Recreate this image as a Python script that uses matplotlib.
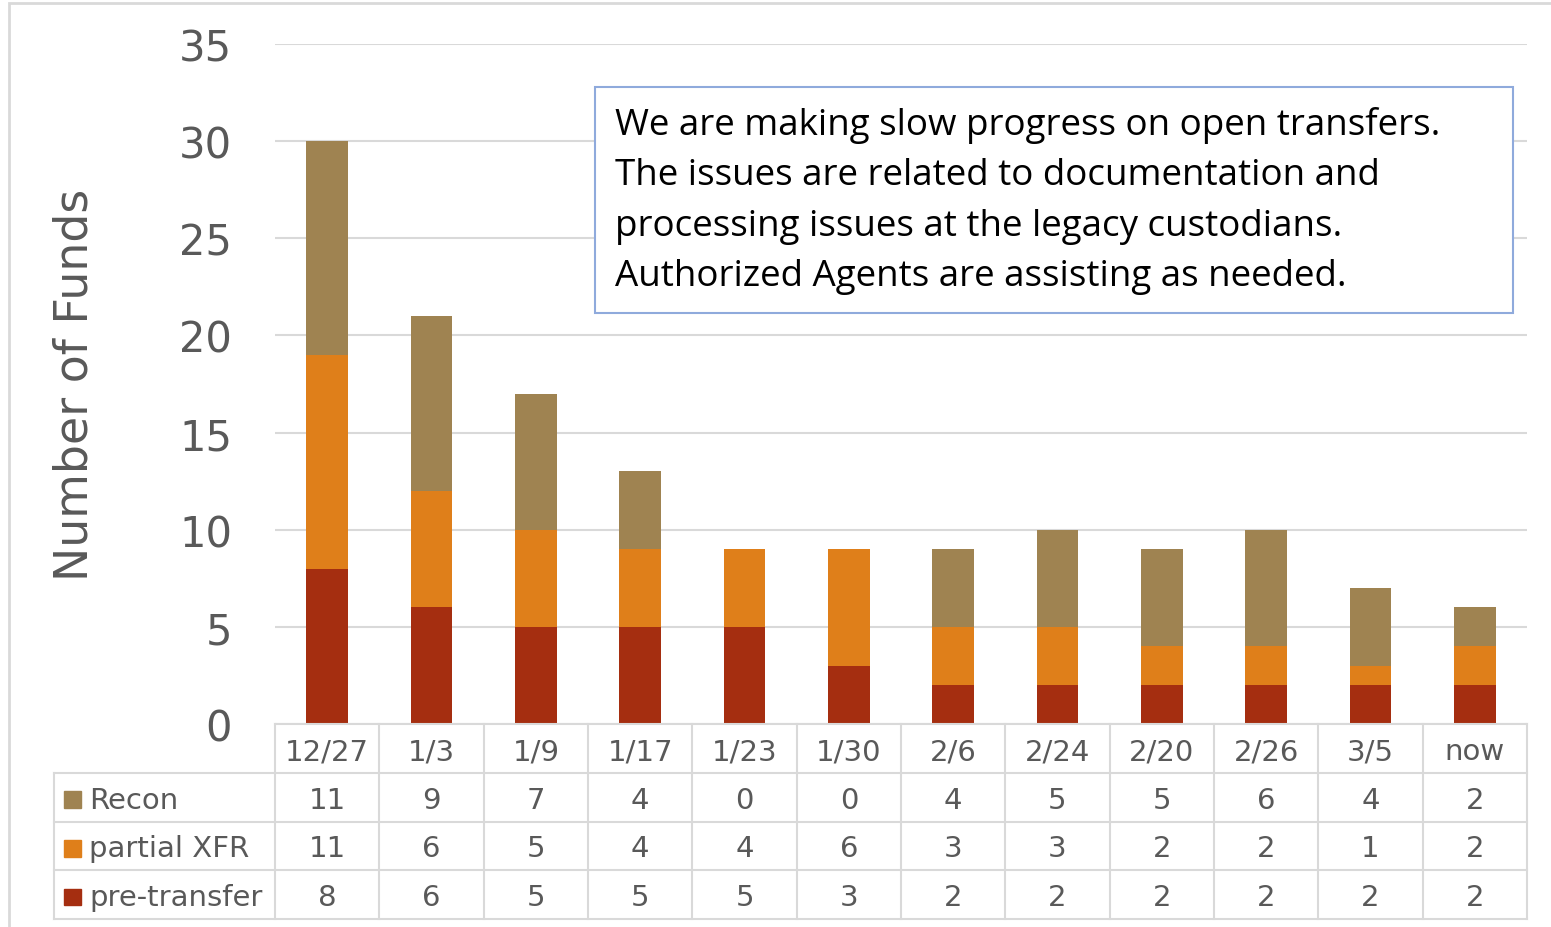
import matplotlib.pyplot as plt
from matplotlib.patches import Rectangle

categories = ['12/27', '1/3', '1/9', '1/17', '1/23', '1/30', '2/6', '2/24', '2/20', '2/26', '3/5', 'now']
recon = [11, 9, 7, 4, 0, 0, 4, 5, 5, 6, 4, 2]
partial_xfr = [11, 6, 5, 4, 4, 6, 3, 3, 2, 2, 1, 2]
pre_transfer = [8, 6, 5, 5, 5, 3, 2, 2, 2, 2, 2, 2]
series_names = ['Recon', 'partial XFR', 'pre-transfer']
colors = ['#9F8351', '#DF7F1A', '#A52E10']
yticks = [0, 5, 10, 15, 20, 25, 30, 35]
note = ("We are making slow progress on open transfers.\n"
        "The issues are related to documentation and\n"
        "processing issues at the legacy custodians.\n"
        "Authorized Agents are assisting as needed.")

W, H = 1551, 928
GRID = '#D9D9D9'
TXT = '#595959'
plt.rcParams['font.family'] = ['DejaVu Sans']

fig = plt.figure(figsize=(W / 100, H / 100), dpi=100)

# outer chart frame
fig.patches.append(Rectangle((9 / W, -0.1), 1.2, 1 - 4 / H + 0.1, transform=fig.transFigure,
                             fill=False, edgecolor=GRID, lw=2))

ax = fig.add_axes([275 / W, 1 - 725 / H, (1527 - 275) / W, (725 - 45) / H])
x = list(range(len(categories)))
bottom2 = pre_transfer
bottom3 = [a + b for a, b in zip(pre_transfer, partial_xfr)]
ax.bar(x, pre_transfer, width=0.4, color=colors[2], zorder=3)
ax.bar(x, partial_xfr, width=0.4, bottom=bottom2, color=colors[1], zorder=3)
ax.bar(x, recon, width=0.4, bottom=bottom3, color=colors[0], zorder=3)
ax.set_xlim(-0.5, len(categories) - 0.5)
ax.set_ylim(0, 35)
ax.set_yticks(yticks)
ax.set_yticklabels([str(v) for v in yticks], fontsize=30, color=TXT)
ax.tick_params(axis='y', length=0, pad=31)
ax.set_xticks([])
ax.yaxis.grid(True, color=GRID, lw=1.5, zorder=0)
for s in ax.spines.values():
    s.set_visible(False)

fig.text(75 / W, 1 - 385 / H, 'Number of Funds', rotation=90, fontsize=33,
         color=TXT, ha='center', va='center')

# data table
tab = fig.add_axes([54 / W, 1 - 920 / H, (1527 - 54) / W, (920 - 725) / H])
colw = (1527 - 275) / len(categories)
xleft = -0.5 - (275 - 54) / colw
xright = len(categories) - 0.5
tab.set_xlim(xleft, xright)
tab.set_ylim(4, 0)
tab.axis('off')
lw = 1.5
tab.plot([-0.5, xright], [0, 0], color=GRID, lw=lw, clip_on=False)
for r in range(1, 5):
    tab.plot([xleft, xright], [r, r], color=GRID, lw=lw, clip_on=False)
for i in range(len(categories) + 1):
    tab.plot([i - 0.5, i - 0.5], [0, 4], color=GRID, lw=lw, clip_on=False)
tab.plot([xleft, xleft], [1, 4], color=GRID, lw=lw, clip_on=False)

for i, c in enumerate(categories):
    tab.text(i, 0.56, c, ha='center', va='center', fontsize=21, color=TXT)
rows = [recon, partial_xfr, pre_transfer]
for r, (name, vals, col) in enumerate(zip(series_names, rows, colors)):
    y = r + 1.55
    tab.add_patch(Rectangle((xleft + 0.1, y - 0.17), 0.16, 0.34, color=col, clip_on=False))
    tab.text(xleft + 0.34, y, name, ha='left', va='center', fontsize=21, color=TXT)
    for i, v in enumerate(vals):
        tab.text(i, y, str(v), ha='center', va='center', fontsize=21, color=TXT)

# annotation box
fig.patches.append(Rectangle((595 / W, 1 - 314 / H), (1513 - 595) / W, (314 - 88) / H,
                             transform=fig.transFigure, facecolor='white',
                             edgecolor='#8FAADC', lw=1.5, zorder=5))
fig.text(615 / W, 1 - 201 / H, note, fontsize=26.5, family='Open Sans', color='black',
         ha='left', va='center', linespacing=1.52, zorder=6)

fig.savefig('out.png', dpi=100)
